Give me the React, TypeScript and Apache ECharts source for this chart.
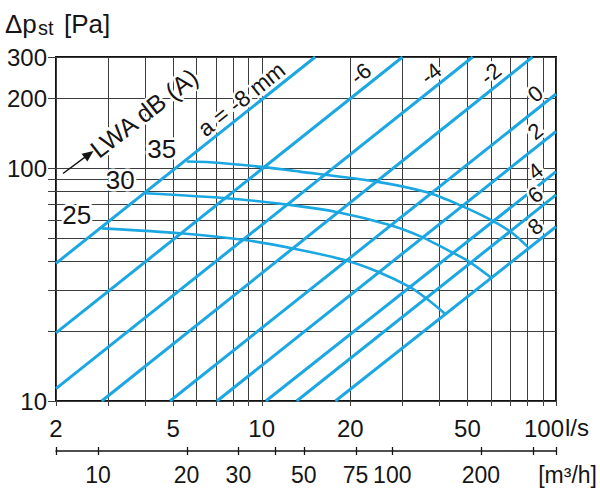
import React, { useEffect, useRef } from 'react';
import * as echarts from 'echarts';

// ---- axes ----
const X_MIN = 2;
const X_MAX = 100;
const Y_MIN = 10;
const Y_MAX = 300;
const xGridValues = [2, 3, 4, 5, 6, 7, 8, 9, 10, 20, 30, 40, 50, 60, 70, 80, 90, 100];
const yGridValues = [10, 20, 30, 40, 50, 60, 70, 80, 90, 100, 200, 300];
const xTickLabels = [2, 5, 10, 20, 50, 100];
const yTickLabels = [10, 100, 200, 300];
// secondary flow axis in m3/h (1 l/s = 3.6 m3/h)
const M3H_MIN = 7.2;
const M3H_MAX = 360;
const m3hTicks = [7.2, 10, 20, 30, 40, 50, 75, 100, 200, 300, 360];
const m3hLabels = [10, 20, 30, 50, 75, 100, 200];

// ---- damper opening lines (a in mm): start and end points [l/s, Pa] ----
const openingNames = ['a = -8 mm', '-6', '-4', '-2', '0', '2', '4', '6', '8'];
const openingStart = [
  [2, 39.0], [2, 19.6], [2, 11.3], [2.86, 10], [4.88, 10],
  [7.05, 10], [10.33, 10], [13.15, 10], [17.8, 10],
];
const openingEnd = [
  [15.2, 300], [30.1, 300], [52.1, 300], [83.2, 300], [100, 208],
  [100, 143.6], [100, 96.6], [100, 76.7], [100, 56.0],
];

// ---- sound power level curves LWA dB(A) ----
const soundNames = ['25', '30', '35'];
const sound25 = [
  [2.86, 55.1], [5.28, 52.5], [8.77, 49.1], [12.78, 45.2], [19.1, 40.3],
  [24.8, 35.9], [31.8, 30.9], [36.2, 27.6], [41.8, 23.8],
];
const sound30 = [
  [4.02, 78.0], [7.6, 74.2], [12.45, 69.5], [18.15, 64.6], [27.2, 57.0],
  [34.8, 50.8], [44.0, 43.7], [50.8, 39.6], [60.1, 33.9],
];
const sound35 = [
  [5.56, 106.7], [6.67, 106.0], [10.0, 101.2], [13.46, 96.6], [24.5, 87.5],
  [36.7, 78.5], [46.9, 69.5], [60.1, 59.9], [71.2, 52.5], [80.0, 46.0],
];
const soundCurves = [sound25, sound30, sound35];

const BLUE = '#1ba7e1';
const GRID = '#3c3c3c';
const INK = '#151515';
const FF = '"Liberation Sans", Arial, Helvetica, sans-serif';
const halo = { stroke: '#ffffff', lineWidth: 5 };

export default function App() {
  const ref = useRef<HTMLDivElement>(null);

  useEffect(() => {
    if (!ref.current) return;
    const chart = echarts.init(ref.current, undefined, { renderer: 'svg' });

    const crisp = (v: number) => Math.round(v) + 0.5;

    const series: any[] = [];

    // vertical grid lines with ticks below
    series.push({
      type: 'custom',
      silent: true,
      z: 1,
      xAxisIndex: 0,
      yAxisIndex: 0,
      data: xGridValues.map((v) => [v, Y_MIN]),
      renderItem: (params: any, api: any) => {
        const v = api.value(0);
        const a = api.coord([v, Y_MIN]);
        const b = api.coord([v, Y_MAX]);
        const x = crisp(a[0]);
        return {
          type: 'line',
          shape: { x1: x, y1: a[1] + 5, x2: x, y2: b[1] },
          style: { stroke: GRID, lineWidth: 1 },
        };
      },
    });

    // horizontal grid lines with ticks left
    series.push({
      type: 'custom',
      silent: true,
      z: 1,
      data: yGridValues.map((v) => [X_MIN, v]),
      renderItem: (params: any, api: any) => {
        const v = api.value(1);
        const a = api.coord([X_MIN, v]);
        const b = api.coord([X_MAX, v]);
        const y = crisp(a[1]);
        return {
          type: 'line',
          shape: { x1: a[0] - 8, y1: y, x2: b[0], y2: y },
          style: { stroke: GRID, lineWidth: 1 },
        };
      },
    });

    // x tick labels (l/s)
    series.push({
      type: 'custom',
      silent: true,
      z: 5,
      data: xTickLabels.map((v) => [v, Y_MIN]),
      renderItem: (params: any, api: any) => {
        const v = api.value(0);
        const p = api.coord([v, Y_MIN]);
        const last = params.dataIndex === xTickLabels.length - 1;
        return {
          type: 'text',
          x: last ? p[0] + 8 : p[0],
          y: p[1] + 27,
          style: {
            text: String(v),
            font: `24px ${FF}`,
            fill: INK,
            align: last ? 'right' : 'center',
            verticalAlign: 'middle',
          },
        };
      },
    });

    // y tick labels (Pa)
    series.push({
      type: 'custom',
      silent: true,
      z: 5,
      data: yTickLabels.map((v) => [X_MIN, v]),
      renderItem: (params: any, api: any) => {
        const v = api.value(1);
        const p = api.coord([X_MIN, v]);
        return {
          type: 'text',
          x: p[0] - 9,
          y: p[1],
          style: {
            text: String(v),
            font: `24px ${FF}`,
            fill: INK,
            align: 'right',
            verticalAlign: 'middle',
          },
        };
      },
    });

    // m3/h ticks
    series.push({
      type: 'custom',
      silent: true,
      z: 5,
      xAxisIndex: 1,
      yAxisIndex: 0,
      data: m3hTicks.map((v) => [v, Y_MIN]),
      renderItem: (params: any, api: any) => {
        const v = api.value(0);
        const p = api.coord([v, Y_MIN]);
        const x = crisp(p[0]);
        return {
          type: 'line',
          shape: { x1: x, y1: p[1] + 46, x2: x, y2: p[1] + 54 },
          style: { stroke: INK, lineWidth: 1.3 },
        };
      },
    });

    // m3/h labels
    series.push({
      type: 'custom',
      silent: true,
      z: 5,
      xAxisIndex: 1,
      yAxisIndex: 0,
      data: m3hLabels.map((v) => [v, Y_MIN]),
      renderItem: (params: any, api: any) => {
        const v = api.value(0);
        const p = api.coord([v, Y_MIN]);
        return {
          type: 'text',
          x: p[0],
          y: p[1] + 74,
          style: {
            text: String(v),
            font: `23px ${FF}`,
            fill: INK,
            align: 'center',
            verticalAlign: 'middle',
          },
        };
      },
    });

    // opening lines
    openingNames.forEach((name, i) => {
      series.push({
        type: 'line',
        name,
        silent: true,
        z: 2,
        symbol: 'none',
        showSymbol: false,
        data: [openingStart[i], openingEnd[i]],
        lineStyle: { color: BLUE, width: 3 },
      });
    });

    // sound curves
    soundNames.forEach((name, i) => {
      series.push({
        type: 'line',
        name: `LWA ${name}`,
        silent: true,
        z: 2,
        symbol: 'none',
        showSymbol: false,
        smooth: 0.25,
        data: soundCurves[i],
        lineStyle: { color: BLUE, width: 2.6 },
      });
    });

    // opening labels, placed along each line near its end
    series.push({
      type: 'custom',
      silent: true,
      z: 6,
      data: openingEnd,
      renderItem: (params: any, api: any) => {
        const i = params.dataIndex;
        const a = api.coord(openingStart[i]);
        const b = api.coord(openingEnd[i]);
        const dx = b[0] - a[0];
        const dy = b[1] - a[1];
        const len = Math.hypot(dx, dy);
        const ux = dx / len;
        const uy = dy / len;
        const nx = uy;
        const ny = -ux;
        const back = i === 0 ? 84 : openingEnd[i][1] >= Y_MAX ? 43 : 16;
        const off = 13;
        return {
          type: 'text',
          x: b[0] - ux * back + nx * off,
          y: b[1] - uy * back + ny * off,
          rotation: Math.atan2(-dy, dx),
          style: {
            text: openingNames[i],
            font: `${i === 0 ? 23 : 22}px ${FF}`,
            fill: INK,
            align: 'center',
            verticalAlign: 'middle',
            ...halo,
          },
        };
      },
    });

    // sound level labels at curve starts
    series.push({
      type: 'custom',
      silent: true,
      z: 6,
      data: soundCurves.map((c) => c[0]),
      renderItem: (params: any, api: any) => {
        const i = params.dataIndex;
        const p = api.coord(soundCurves[i][0]);
        return {
          type: 'text',
          x: p[0] - 25,
          y: p[1] - 13,
          style: {
            text: soundNames[i],
            font: `26px ${FF}`,
            fill: INK,
            align: 'center',
            verticalAlign: 'middle',
            ...halo,
          },
        };
      },
    });

    const option: any = {
      animation: false,
      backgroundColor: '#ffffff',
      grid: {
        left: 56,
        right: 44,
        top: 57,
        bottom: 96,
        show: true,
        borderColor: '#111',
        borderWidth: 2,
        backgroundColor: 'transparent',
      },
      xAxis: [
        {
          type: 'log',
          logBase: 10,
          min: X_MIN,
          max: X_MAX,
          position: 'bottom',
          axisLine: { show: false, onZero: false },
          axisTick: { show: false },
          axisLabel: { show: false },
          splitLine: { show: false },
          minorTick: { show: false },
        },
        {
          type: 'log',
          logBase: 10,
          min: M3H_MIN,
          max: M3H_MAX,
          position: 'bottom',
          offset: 50,
          axisLine: { show: true, onZero: false, lineStyle: { color: INK, width: 1.5 } },
          axisTick: { show: false },
          axisLabel: { show: false },
          splitLine: { show: false },
        },
      ],
      yAxis: {
        type: 'log',
        logBase: 10,
        min: Y_MIN,
        max: Y_MAX,
        axisLine: { show: false, onZero: false },
        axisTick: { show: false },
        axisLabel: { show: false },
        splitLine: { show: false },
      },
      graphic: [
        {
          type: 'text',
          x: 5,
          y: 24,
          z: 100,
          style: { text: 'Δp', font: `26px ${FF}`, fill: INK, align: 'left', verticalAlign: 'middle' },
        },
        {
          type: 'text',
          x: 38,
          y: 28,
          z: 100,
          style: { text: 'st', font: `20px ${FF}`, fill: INK, align: 'left', verticalAlign: 'middle' },
        },
        {
          type: 'text',
          x: 64,
          y: 24,
          z: 100,
          style: { text: '[Pa]', font: `26px ${FF}`, fill: INK, align: 'left', verticalAlign: 'middle' },
        },
        {
          type: 'text',
          x: 565,
          y: 427.5,
          z: 100,
          style: { text: 'l/s', font: `24px ${FF}`, fill: INK, align: 'left', verticalAlign: 'middle' },
        },
        {
          type: 'text',
          x: 597,
          y: 475,
          z: 100,
          style: { text: '[m³/h]', font: `23px ${FF}`, fill: INK, align: 'right', verticalAlign: 'middle' },
        },
        {
          type: 'text',
          x: 144,
          y: 113,
          z: 100,
          rotation: 0.658,
          style: {
            text: 'LWA dB (A)',
            font: `25px ${FF}`,
            fill: INK,
            align: 'center',
            verticalAlign: 'middle',
            ...halo,
          },
        },
        {
          type: 'line',
          z: 100,
          shape: { x1: 63, y1: 173.5, x2: 87, y2: 155.6 },
          style: { stroke: INK, lineWidth: 1.5 },
        },
        {
          type: 'polygon',
          z: 100,
          shape: { points: [[93.5, 151], [87.4, 161.4], [81.6, 153.8]] },
          style: { fill: INK },
        },
      ],
      series,
    };

    chart.setOption(option);
    return () => chart.dispose();
  }, []);

  return (
    <div
      ref={ref}
      style={{ position: 'absolute', left: 0, top: 0, width: 600, height: 497, background: '#fff' }}
    />
  );
}
